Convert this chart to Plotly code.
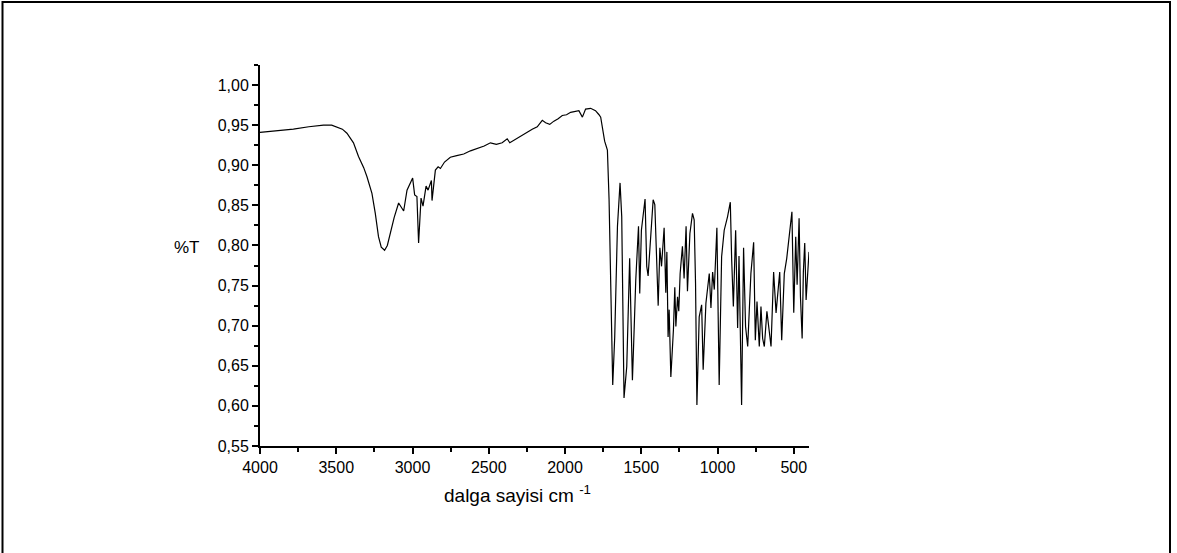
import plotly.graph_objects as go

# IR spectrum: wavenumber (cm^-1) and transmittance
wavenumber = [
    4000, 3900, 3781, 3680, 3584, 3530, 3496, 3460, 3430, 3400, 3387, 3354,
    3320, 3299, 3266, 3244, 3223, 3205, 3183, 3165, 3146, 3120, 3091, 3058,
    3036, 2999, 2986, 2971, 2960, 2944, 2931, 2911, 2898, 2876, 2872, 2850,
    2832, 2817, 2790, 2752, 2710, 2664, 2620, 2576, 2530, 2489, 2450, 2412,
    2379, 2362, 2313, 2280, 2248, 2215, 2182, 2149, 2127, 2100, 2073, 2045,
    2018, 1990, 1963, 1935, 1909, 1886, 1865, 1832, 1800,
    1777, 1766, 1740, 1722, 1711, 1700, 1687, 1674, 1656, 1639, 1628, 1613,
    1595, 1576, 1558, 1551, 1536, 1518, 1510, 1499, 1475, 1464, 1455, 1422,
    1411, 1389, 1378, 1367, 1350, 1339, 1332, 1324, 1317, 1306, 1289, 1280,
    1273, 1262, 1254, 1245, 1230, 1219, 1206, 1197, 1181, 1164, 1153, 1144,
    1135, 1120, 1104, 1094, 1076, 1054, 1043, 1032, 1021, 1004, 989, 973,
    956, 934, 916, 907, 896, 881, 868, 859, 851, 842, 829, 816, 802, 781,
    763, 752, 741, 726, 715, 704, 693, 676, 649, 632, 616, 592, 579, 562,
    546, 530, 512, 500, 487, 478, 465, 456, 445, 437, 428, 419, 406, 400,
]
transmittance = [
    0.941, 0.943, 0.945, 0.948, 0.950, 0.950, 0.948, 0.945, 0.940, 0.932, 0.928, 0.911,
    0.897, 0.886, 0.865, 0.840, 0.811, 0.798, 0.794, 0.800, 0.815, 0.835, 0.853, 0.843,
    0.869, 0.884, 0.863, 0.861, 0.803, 0.859, 0.849, 0.874, 0.869, 0.881, 0.856, 0.894,
    0.898, 0.896, 0.904, 0.910, 0.912, 0.914, 0.918, 0.921, 0.924, 0.928, 0.926, 0.928,
    0.933, 0.928, 0.934, 0.938, 0.942, 0.945, 0.948, 0.956, 0.953, 0.951, 0.955, 0.958,
    0.962, 0.963, 0.966, 0.967, 0.968, 0.960, 0.970, 0.971, 0.968,
    0.963, 0.960, 0.930, 0.919, 0.857, 0.753, 0.626, 0.686, 0.824, 0.878, 0.836, 0.610,
    0.649, 0.784, 0.632, 0.670, 0.757, 0.824, 0.740, 0.819, 0.858, 0.774, 0.762, 0.857,
    0.851, 0.725, 0.797, 0.774, 0.822, 0.741, 0.792, 0.686, 0.720, 0.636, 0.695, 0.748,
    0.699, 0.736, 0.718, 0.765, 0.799, 0.759, 0.824, 0.743, 0.815, 0.840, 0.832, 0.753,
    0.601, 0.711, 0.726, 0.645, 0.728, 0.765, 0.722, 0.767, 0.745, 0.822, 0.626, 0.786,
    0.819, 0.836, 0.854, 0.782, 0.724, 0.819, 0.697, 0.787, 0.686, 0.601, 0.797, 0.699,
    0.674, 0.765, 0.804, 0.682, 0.730, 0.674, 0.724, 0.684, 0.674, 0.718, 0.674, 0.767,
    0.716, 0.767, 0.682, 0.765, 0.784, 0.809, 0.842, 0.716, 0.811, 0.751, 0.834, 0.736,
    0.684, 0.767, 0.803, 0.732, 0.778, 0.792,
]

x_ticks = [4000, 3500, 3000, 2500, 2000, 1500, 1000, 500]

W, H = 1177, 553
ML, MR, MT, MB = 260, 368, 65, 107
PW, PH = W - ML - MR, H - MT - MB


def px_x(p):
    return (p - ML) / PW


def px_y(p):
    return (H - MB - p) / PH


FONT = "Liberation Sans, Arial, sans-serif"

fig = go.Figure(
    go.Scatter(
        x=wavenumber,
        y=transmittance,
        mode="lines",
        line=dict(color="black", width=1.2),
        hoverinfo="x+y",
    )
)

fig.update_layout(
    width=W,
    height=H,
    margin=dict(l=ML, r=MR, t=MT, b=MB),
    paper_bgcolor="white",
    plot_bgcolor="white",
    separators=",.",
    showlegend=False,
    font=dict(family=FONT, size=16, color="black"),
    xaxis=dict(
        range=[4000, 400],
        tickvals=x_ticks,
        ticks="outside",
        ticklen=6,
        tickwidth=1.6,
        tickcolor="black",
        showline=True,
        linecolor="black",
        linewidth=2,
        showgrid=False,
        zeroline=False,
        minor=dict(dtick=250, ticks="outside", ticklen=4, tickwidth=1.6,
                   tickcolor="black", showgrid=False),
        tickfont=dict(family=FONT, size=16, color="black"),
    ),
    yaxis=dict(
        range=[0.55, 1.025],
        dtick=0.05,
        tick0=0.55,
        tickformat=".2f",
        ticks="outside",
        ticklen=6,
        tickwidth=1.6,
        tickcolor="black",
        showline=True,
        linecolor="black",
        linewidth=2,
        showgrid=False,
        zeroline=False,
        minor=dict(dtick=0.025, ticks="outside", ticklen=4, tickwidth=1.6,
                   tickcolor="black", showgrid=False),
        tickfont=dict(family=FONT, size=16, color="black"),
    ),
    annotations=[
        dict(text="%T", xref="paper", yref="paper",
             x=px_x(187), y=px_y(247), showarrow=False,
             xanchor="center", yanchor="middle",
             font=dict(family=FONT, size=17, color="black")),
        dict(text="dalga sayisi cm <sup>-1</sup>", xref="paper", yref="paper",
             x=px_x(517), y=px_y(494), showarrow=False,
             xanchor="center", yanchor="middle",
             font=dict(family=FONT, size=19, color="black")),
    ],
    shapes=[
        dict(type="rect", xref="paper", yref="paper",
             x0=px_x(2.5), x1=px_x(1170), y0=px_y(2), y1=px_y(570),
             line=dict(color="black", width=2), fillcolor="rgba(0,0,0,0)",
             layer="above"),
    ],
)

fig.write_html("out.html")
